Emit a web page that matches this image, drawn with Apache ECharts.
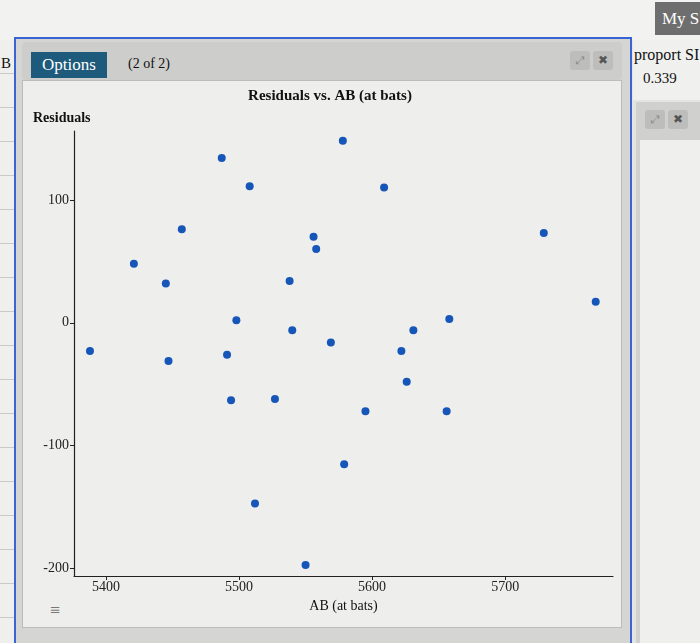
<!DOCTYPE html>
<html><head><meta charset="utf-8">
<script src="https://cdn.jsdelivr.net/npm/echarts@6/dist/echarts.min.js"></script>
<style>
html,body{margin:0;padding:0;width:700px;height:643px;overflow:hidden;background:#e4e4e2;font-family:"Liberation Serif",serif;color:#111;}
.a{position:absolute;}
#chart{position:absolute;left:0;top:0;width:700px;height:643px;}
</style></head><body>
<div class="a" style="left:0;top:0;width:700px;height:40px;background:#f2f2f0;"></div>
<div class="a" style="left:655px;top:2px;width:50px;height:33px;background:#6e6e6e;color:#fff;font-size:17px;line-height:33px;padding-left:7px;box-sizing:border-box;">My S</div>
<div class="a" style="left:0;top:40px;width:14px;height:603px;background:repeating-linear-gradient(#efefed 0 33px,#c9c9c7 33px 34px);"></div>
<div class="a" style="left:1px;top:55px;font-size:15px;">B</div>
<div class="a" style="left:14px;top:37px;width:618px;height:620px;border:2px solid #3a63d4;box-sizing:border-box;background:#d5d5d3;"></div>
<div class="a" style="left:22px;top:42px;width:600px;height:38px;background:#cdcdcb;border-radius:4px;"></div>
<div class="a" style="left:31px;top:52px;width:76px;height:26px;background:#1e5a7b;color:#fff;font-size:17px;line-height:26px;text-align:center;">Options</div>
<div class="a" style="left:128px;top:56px;font-size:14px;">(2 of 2)</div>
<div class="a" style="left:570px;top:51px;width:20px;height:19px;background:#bdbdbb;color:#8a8a88;font-size:11px;line-height:19px;text-align:center;border-radius:3px;">⤢</div>
<div class="a" style="left:593px;top:51px;width:20px;height:19px;background:#bdbdbb;color:#555;font-size:12px;line-height:19px;text-align:center;border-radius:3px;">✖</div>
<div class="a" style="left:22px;top:80px;width:600px;height:548px;background:#eeeeec;border:1px solid #bcbcba;box-sizing:border-box;"></div>
<div class="a" style="left:633px;top:40px;width:67px;height:60px;background:#f0f0ee;"></div>
<div class="a" style="left:634px;top:46px;font-size:16px;white-space:nowrap;">proport SI</div>
<div class="a" style="left:643px;top:70px;font-size:15px;">0.339</div>
<div class="a" style="left:636px;top:102px;width:64px;height:541px;background:#d0d0ce;"></div>
<div class="a" style="left:640px;top:140px;width:60px;height:503px;background:#efefed;"></div>
<div class="a" style="left:645px;top:110px;width:20px;height:19px;background:#bdbdbb;color:#8a8a88;font-size:11px;line-height:19px;text-align:center;border-radius:3px;">⤢</div>
<div class="a" style="left:668px;top:110px;width:20px;height:19px;background:#bdbdbb;color:#555;font-size:12px;line-height:19px;text-align:center;border-radius:3px;">✖</div>
<div class="a" style="left:50px;top:600px;font-size:18px;color:#777;">≡</div>
<div id="chart"></div>
<script>
const abAtBats = [5388, 5421, 5445, 5447, 5457, 5487, 5491, 5494, 5498, 5508, 5512, 5527, 5538, 5540, 5550, 5556, 5558, 5569, 5578, 5579, 5595, 5609, 5622, 5626, 5631, 5656, 5658, 5729, 5768];
const residuals = [-23, 48, 32, -31, 76, 134, -26, -63, 2, 111, -147, -62, 34, -6, -197, 70, 60, -16, 148, -115, -72, 110, -23, -48, -6, -72, 3, 73, 17];
const xTicks = [5400, 5500, 5600, 5700];
const yTicks = [-200, -100, 0, 100];
const serif = '"Liberation Serif", "DejaVu Serif", serif';

const chart = echarts.init(document.getElementById('chart'));
chart.setOption({
  backgroundColor: 'transparent',
  animation: false,
  textStyle: {fontFamily: serif, color: '#111'},
  title: {
    text: 'Residuals vs. AB (at bats)', left: 325, top: 84, textAlign: 'center',
    textStyle: {fontSize: 15, fontWeight: 'bold', color: '#111', fontFamily: serif}
  },
  grid: {left: 74, top: 131, width: 539, height: 445, containLabel: false},
  xAxis: {
    type: 'value', min: 5376, max: 5781,
    name: 'AB (at bats)', nameLocation: 'middle', nameGap: 21,
    nameTextStyle: {fontSize: 14, color: '#111', fontFamily: serif},
    axisLine: {show: true, onZero: false, lineStyle: {color: '#222', width: 1.2}},
    axisTick: {show: true, length: 4, customValues: xTicks, lineStyle: {color: '#222'}},
    axisLabel: {customValues: xTicks, fontSize: 14, margin: 4, color: '#222', fontFamily: serif, formatter: v => String(v)},
    splitLine: {show: false}
  },
  yAxis: {
    type: 'value', min: -206, max: 156,
    axisLine: {show: true, onZero: false, lineStyle: {color: '#222', width: 1.2}},
    axisTick: {show: true, length: 4, customValues: yTicks, lineStyle: {color: '#222'}},
    axisLabel: {customValues: yTicks, fontSize: 14, margin: 5, color: '#222', fontFamily: serif, formatter: v => String(v)},
    splitLine: {show: false}
  },
  graphic: [{
    type: 'text', left: 33, top: 111,
    style: {text: 'Residuals', font: 'bold 14px ' + serif, fill: '#111'}
  }],
  series: [{
    type: 'scatter',
    data: abAtBats.map((x, i) => [x, residuals[i]]),
    symbolSize: 8,
    itemStyle: {color: '#1656b8', opacity: 1}
  }]
});
</script>
</body></html>
